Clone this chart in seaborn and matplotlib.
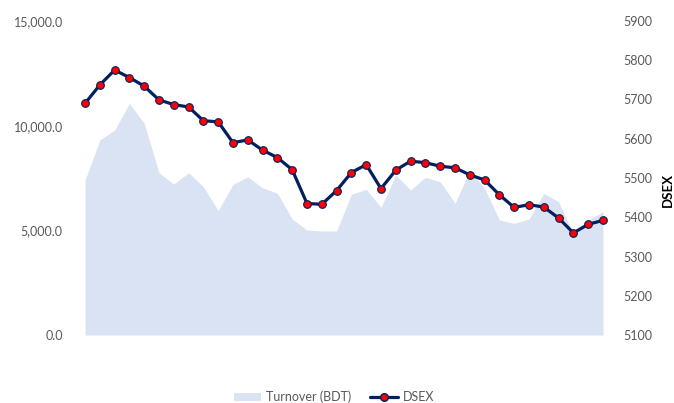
import numpy as np
import pandas as pd
import matplotlib
matplotlib.use("Agg")
import matplotlib.pyplot as plt
import seaborn as sns
from matplotlib.patches import Patch
from matplotlib.lines import Line2D
from matplotlib.ticker import FuncFormatter

# ── Data ──────────────────────────────────────────────────────────────
day = list(range(36))
turnover = [7400, 9310, 9790, 11060, 10110, 7750, 7210, 7750, 7080, 5940,
            7200, 7550, 7030, 6770, 5540, 5010, 4970, 4970, 6730, 6960,
            6100, 7640, 6930, 7530, 7320, 6290, 7850, 7010, 5490, 5330,
            5540, 6770, 6370, 4800, 5490, 5890]
dsex = [5690, 5737, 5775, 5756, 5734, 5699, 5687, 5681, 5646, 5643,
        5590, 5597, 5571, 5552, 5521, 5435, 5433, 5468, 5514, 5534,
        5473, 5520, 5543, 5539, 5530, 5526, 5508, 5495, 5457, 5425,
        5432, 5426, 5398, 5360, 5382, 5392]

df = pd.DataFrame({"day": day, "turnover": turnover, "dsex": dsex})

AREA = "#DAE3F3"
NAVY = "#002060"
TEXT = "#595959"

sns.set_theme(style="white")
plt.rcParams["font.family"] = ["Lato", "DejaVu Sans"]

fig = plt.figure(figsize=(6.74, 4.03), dpi=100)
ax = fig.add_axes([85 / 674, 1 - 335 / 403, (603 - 85) / 674, (335 - 21) / 403])

ax.fill_between(df["day"], df["turnover"], color=AREA, linewidth=0, zorder=1)
ax.set_ylim(0, 15000)
ax.set_yticks([0, 5000, 10000, 15000])
ax.yaxis.set_major_formatter(FuncFormatter(lambda v, p: f"{v:,.1f}"))
ax.set_xlim(0, 35)
ax.set_xticks([])

ax2 = ax.twinx()
sns.lineplot(data=df, x="day", y="dsex", ax=ax2, color=NAVY, linewidth=2.3,
             marker="o", markersize=5.5, markerfacecolor="red",
             markeredgecolor=NAVY, markeredgewidth=0.8, zorder=3)
for ln in ax2.lines:
    ln.set_clip_on(False)
ax2.set_ylim(5100, 5900)
ax2.set_yticks(range(5100, 5901, 100))
ax2.set_xlim(0, 35)
ax2.set_xlabel("")
ax2.set_ylabel("")

for a in (ax, ax2):
    for s in a.spines.values():
        s.set_visible(False)
    a.tick_params(length=0, labelsize=9, colors=TEXT)
ax.tick_params(axis="y", pad=16)
ax2.tick_params(axis="y", pad=15)

fig.text(668 / 674, 1 - 190 / 403, "DSEX", rotation=90, ha="center", va="center",
         fontsize=9.5, fontweight="bold", color="black")

handles = [Patch(facecolor=AREA, edgecolor="none"),
           Line2D([0], [0], color=NAVY, linewidth=2.3, marker="o", markersize=5.5,
                  markerfacecolor="red", markeredgecolor=NAVY)]
fig.legend(handles, ["Turnover (BDT)", "DSEX"], loc="center", ncol=2,
           bbox_to_anchor=(334 / 674, 1 - 397 / 403), frameon=False,
           fontsize=9, labelcolor=TEXT, handlelength=2.2, handletextpad=0.4,
           columnspacing=1.5)

fig.savefig("out.png", dpi=100)
